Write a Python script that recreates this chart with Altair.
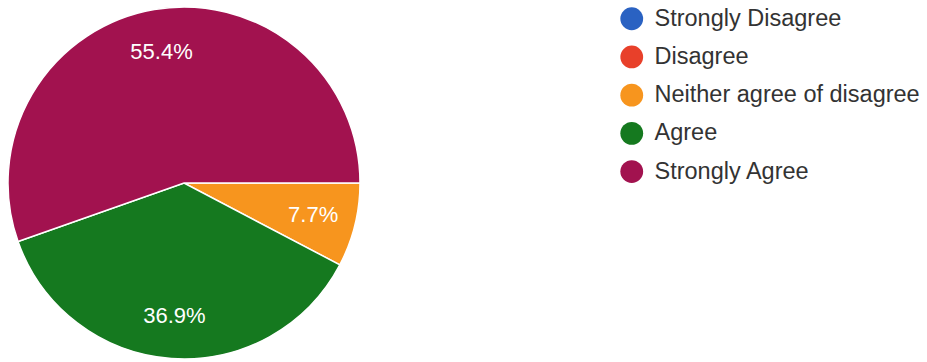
import math
import altair as alt
import pandas as pd

categories = ["Strongly Disagree", "Disagree", "Neither agree of disagree", "Agree", "Strongly Agree"]
percent = [0.0, 0.0, 7.7, 36.9, 55.4]
colors = ["#2a62c2", "#e8402a", "#f7951e", "#15791f", "#a2124f"]

df = pd.DataFrame({"cat": categories, "pct": percent, "order": list(range(len(categories)))})
df["label"] = df["pct"].map(lambda v: f"{v:.1f}%")

CX, CY, R = 184, 183, 176

theta = alt.Theta("pct:Q", stack=True,
                  scale=alt.Scale(range=[math.pi / 2, math.pi / 2 + 2 * math.pi]))
color = alt.Color("cat:N", sort=categories,
                  scale=alt.Scale(domain=categories, range=colors),
                  legend=alt.Legend(title=None, orient="none", legendX=620, legendY=7,
                                    symbolType="circle", symbolSize=520, symbolStrokeWidth=0,
                                    labelFont="Liberation Sans", labelFontSize=23.5,
                                    labelColor="#333333", labelOffset=11, rowPadding=13.2,
                                    padding=0, labelLimit=400))

base = alt.Chart(df).encode(theta=theta, order=alt.Order("order:Q"))

arcs = base.mark_arc(outerRadius=R, stroke="white", strokeWidth=1.5).encode(
    color=color, x=alt.value(CX), y=alt.value(CY))

texts = base.transform_filter("datum.pct > 0").mark_text(
    radius=133, font="Liberation Sans", fontSize=22, color="white"
).encode(text="label:N", x=alt.value(CX), y=alt.value(CY))

chart = alt.layer(arcs, texts).properties(
    width=927, height=362, padding=0, autosize=alt.AutoSizeParams(type="none")
).configure_view(stroke=None)

chart.save("out.html", embed_options={"renderer": "svg", "actions": False})
